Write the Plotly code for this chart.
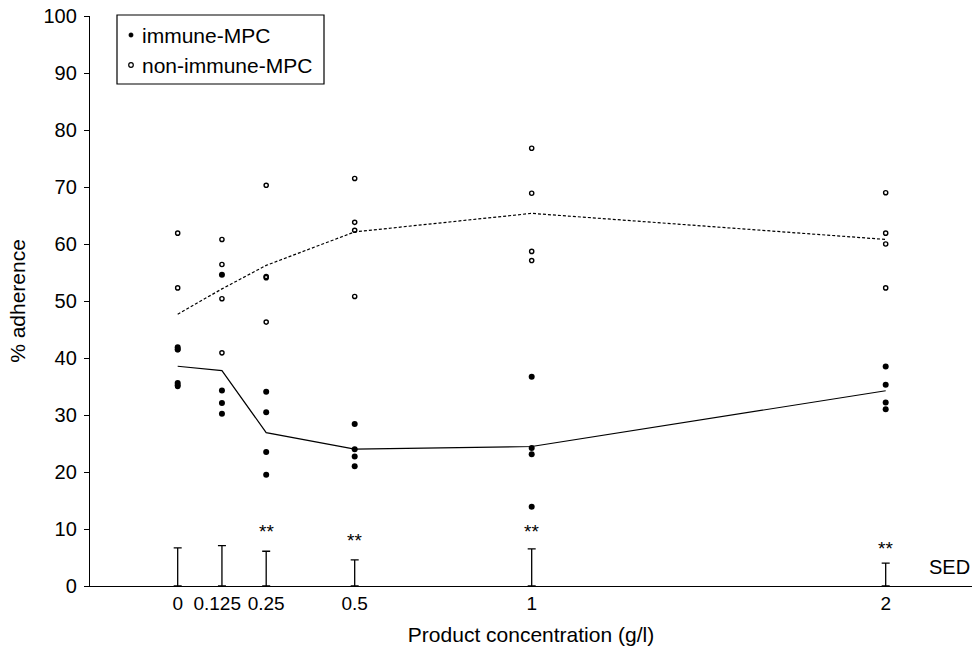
import numpy as np
import plotly.graph_objects as go

# ---- data ----
concentration = [0, 0.125, 0.25, 0.5, 1, 2]
tick_labels = ["0", "0.125\u2002", "0.25", "0.5", "1", "2"]

immune_mpc = [
    [41.9, 41.5, 35.6, 35.2],
    [54.6, 34.3, 32.1, 30.2],
    [34.1, 30.5, 23.5, 19.5],
    [28.4, 24.0, 22.7, 21.0],
    [36.7, 24.2, 23.1, 13.9],
    [38.5, 35.3, 32.2, 31.0],
]
non_immune_mpc = [
    [61.9, 52.3, 41.5, 35.0],
    [60.8, 56.4, 50.4, 40.9],
    [70.3, 54.3, 54.1, 46.3],
    [71.5, 63.8, 62.4, 50.8],
    [76.8, 68.9, 58.7, 57.1],
    [69.0, 61.9, 60.0, 52.3],
]
sed = [6.7, 7.1, 6.1, 4.6, 6.5, 4.0]

signif_conc = [0.25, 0.5, 1, 2]
signif_label = ["**", "**", "**", "**"]

legend_names = ["immune-MPC", "non-immune-MPC"]

# ---- derived ----
def flatten(groups):
    xs, ys = [], []
    for c, vals in zip(concentration, groups):
        for v in vals:
            xs.append(c)
            ys.append(v)
    return xs, ys

imm_x, imm_y = flatten(immune_mpc)
non_x, non_y = flatten(non_immune_mpc)
imm_mean = [float(np.mean(v)) for v in immune_mpc]
non_mean = [float(np.mean(v)) for v in non_immune_mpc]

FONT = "Liberation Sans, Arial, sans-serif"
W, H = 972, 648
ML, MR, MT, MB = 90, 0, 16, 62
PW, PH = W - ML - MR, H - MT - MB


def px(xp):
    return (xp - ML) / PW


def py(yp):
    return (H - MB - yp) / PH


fig = go.Figure()

# mean lines
fig.add_trace(go.Scatter(x=concentration, y=non_mean, mode="lines",
                         line=dict(color="black", width=1.2, dash="3px,2px"),
                         showlegend=False, hoverinfo="skip"))
fig.add_trace(go.Scatter(x=concentration, y=imm_mean, mode="lines",
                         line=dict(color="black", width=1.2),
                         showlegend=False, hoverinfo="skip"))

# SED bars
fig.add_trace(go.Scatter(x=concentration, y=[0] * len(concentration), mode="markers",
                         marker=dict(size=1, color="rgba(0,0,0,0)"),
                         error_y=dict(type="data", array=sed, arrayminus=[0] * len(sed),
                                      symmetric=False, color="black", thickness=1.3, width=4),
                         showlegend=False, hoverinfo="skip", cliponaxis=False))

# points
fig.add_trace(go.Scatter(x=non_x, y=non_y, mode="markers", name=legend_names[1],
                         marker=dict(symbol="circle-open", size=4.2, color="black",
                                     line=dict(width=1.4, color="black")),
                         showlegend=False))
fig.add_trace(go.Scatter(x=imm_x, y=imm_y, mode="markers", name=legend_names[0],
                         marker=dict(symbol="circle", size=6, color="black"),
                         showlegend=False))

# significance labels
sig_y = [9.6, 7.9, 9.6, 6.5]
for c, lab, yy in zip(signif_conc, signif_label, sig_y):
    fig.add_annotation(x=c, y=yy, text=lab, showarrow=False,
                       font=dict(size=19, color="black", family=FONT),
                       xanchor="center", yanchor="middle")
fig.add_annotation(x=2.18, y=3.3, text="SED", showarrow=False,
                   font=dict(size=20, color="black", family=FONT),
                   xanchor="center", yanchor="middle")

# legend (drawn by hand to match the compact original box)
fig.add_shape(type="rect", xref="paper", yref="paper",
              x0=px(117), x1=px(324), y0=py(84), y1=py(15),
              line=dict(color="black", width=1.2), fillcolor="white", layer="above")
leg_y = [35, 65]
fig.add_shape(type="circle", xref="paper", yref="paper", xsizemode="pixel", ysizemode="pixel",
              xanchor=px(131), yanchor=py(leg_y[0]), x0=-2.2, x1=2.2, y0=-2.2, y1=2.2,
              fillcolor="black", line=dict(color="black", width=0.5), layer="above")
fig.add_shape(type="circle", xref="paper", yref="paper", xsizemode="pixel", ysizemode="pixel",
              xanchor=px(131), yanchor=py(leg_y[1]), x0=-2.3, x1=2.3, y0=-2.3, y1=2.3,
              fillcolor="white", line=dict(color="black", width=1.2), layer="above")
for name, ly in zip(legend_names, leg_y):
    fig.add_annotation(xref="paper", yref="paper", x=px(140), y=py(ly), text=name,
                       showarrow=False, xanchor="left", yanchor="middle",
                       font=dict(size=21, color="black", family=FONT))

fig.update_layout(
    width=W, height=H,
    margin=dict(l=ML, r=MR, t=MT, b=MB, autoexpand=False),
    paper_bgcolor="white", plot_bgcolor="white",
    font=dict(family=FONT, size=20, color="black"),
    showlegend=False,
    xaxis=dict(range=[-0.2477, 2.2438], tickvals=concentration, ticktext=tick_labels,
               tickangle=0, automargin=False,
               showgrid=False, zeroline=False, showline=True, linecolor="black",
               linewidth=1.3, ticks="", tickfont=dict(size=19),
               title=dict(text="Product concentration (g/l)", font=dict(size=21), standoff=14)),
    yaxis=dict(range=[0, 100], tickvals=list(range(0, 101, 10)), automargin=False,
               showgrid=False, zeroline=False, showline=True, linecolor="black",
               linewidth=1.3, ticks="outside", ticklen=5, tickwidth=1.3, tickcolor="black",
               tickfont=dict(size=20), ticklabelstandoff=3,
               title=dict(text="% adherence", font=dict(size=21), standoff=12)),
)

fig.write_html("out.html", config={"displayModeBar": False},
               post_script="document.body.style.margin='0';document.body.style.padding='0';")
